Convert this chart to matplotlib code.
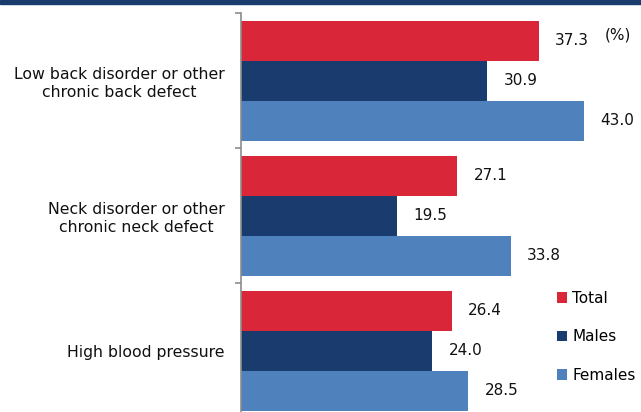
import numpy as np
import matplotlib
matplotlib.use("Agg")
import matplotlib.pyplot as plt
from matplotlib.patches import Rectangle

categories = ["Low back disorder or other\nchronic back defect",
              "Neck disorder or other\nchronic neck defect",
              "High blood pressure"]
series = ["Total", "Males", "Females"]
total = [37.3, 27.1, 26.4]
males = [30.9, 19.5, 24.0]
females = [43.0, 33.8, 28.5]
colors = ["#d92638", "#1a3b6e", "#4f81bd"]

plt.rcParams['font.family'] = ['DejaVu Sans']

W, H = 641, 412
fig = plt.figure(figsize=(W / 100, H / 100), dpi=100)
# axes spans px x 241..641, y 13..418 (bottom runs off the figure)
ax = fig.add_axes([241 / W, (H - 418) / H, (W - 241) / W, (418 - 13) / H])

# dark band along the top
fig.patches.append(Rectangle((0, (H - 4) / H), 1, 4 / H, transform=fig.transFigure,
                             color="#1a3b6e", zorder=5))

y = np.arange(len(categories))
h = 40 / 135
for i, (vals, c) in enumerate(zip([total, males, females], colors)):
    pos = y + (i - 1) * h
    ax.barh(pos, vals, height=h, color=c, label=series[i], edgecolor="none")
    for p, v in zip(pos, vals):
        ax.annotate(f"{v:.1f}", (v, p), xytext=(12, 0), textcoords="offset points",
                    va="center", ha="left", fontsize=11, color="#111111")

ax.set_xlim(0, (W - 241) / (343 / 43.0))
ax.set_ylim(2.5, -0.5)

for s in ["top", "right", "bottom"]:
    ax.spines[s].set_visible(False)
ax.spines["left"].set_color("#8c8c8c")
ax.spines["left"].set_linewidth(1.2)
ax.set_xticks([])
ax.set_yticks([-0.5, 0.5, 1.5, 2.5])
ax.set_yticklabels([])
ax.tick_params(axis="y", which="major", length=4, width=1.2, color="#8c8c8c")
ax.set_yticks(y, minor=True)
ax.set_yticklabels(categories, minor=True, fontsize=11.3, multialignment="center",
                   linespacing=1.25, color="#111111")
ax.tick_params(axis="y", which="minor", length=0, pad=12)

fig.text(605 / W, (H - 35) / H, "(%)", fontsize=11, va="center", ha="left", color="#111111")

leg = fig.legend(loc="upper left", bbox_to_anchor=(543 / W, (H - 277) / H),
                 frameon=False, fontsize=11, handlelength=0.7, handleheight=0.7,
                 handletextpad=0.3, labelspacing=1.55)

fig.savefig("out.png", dpi=100)
